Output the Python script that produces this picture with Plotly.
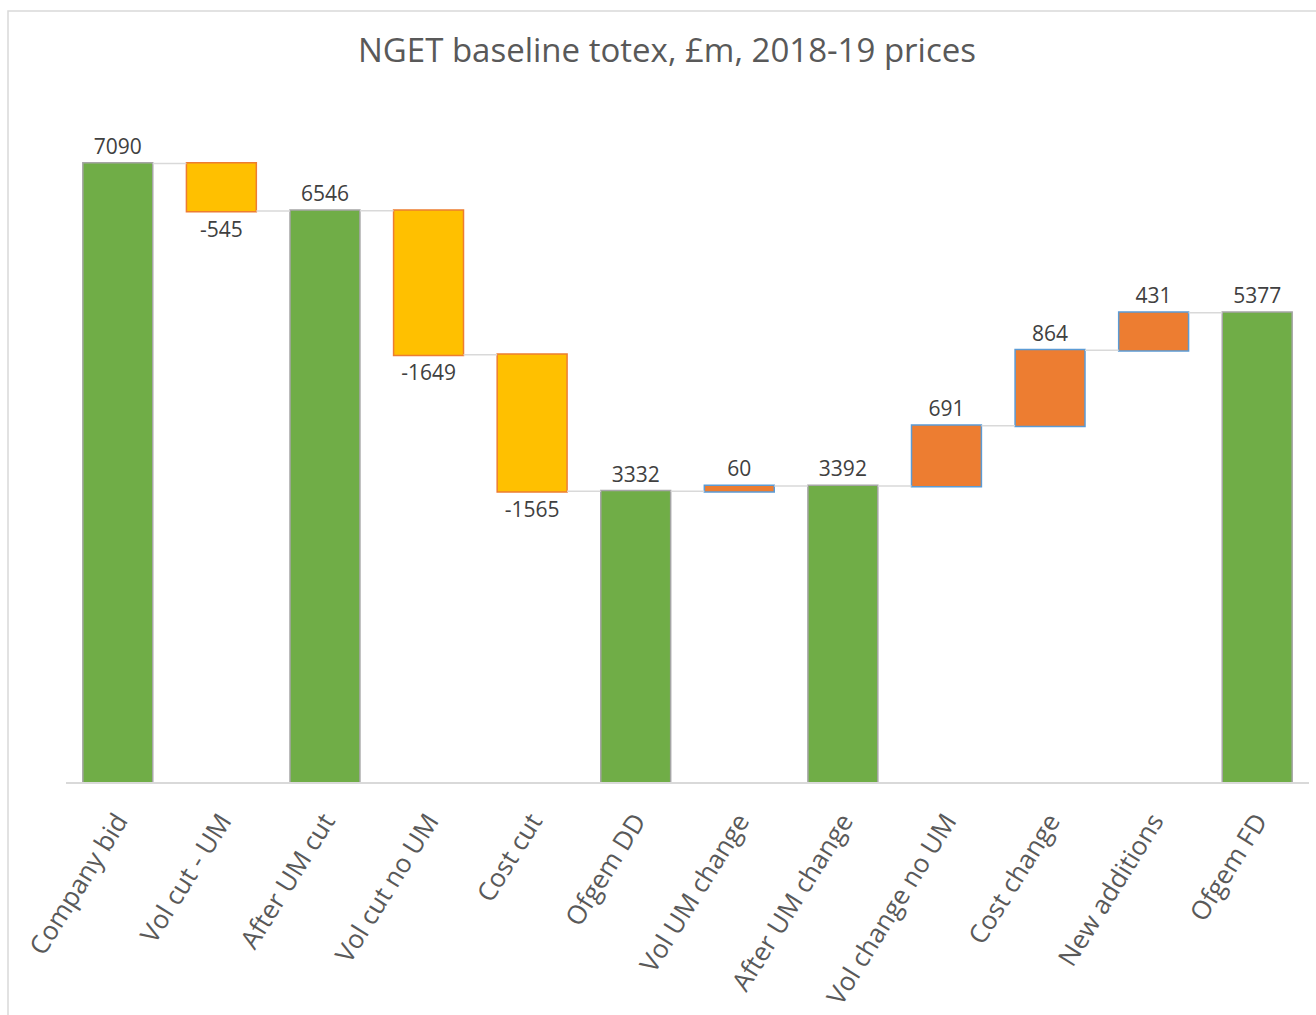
import plotly.graph_objects as go

categories = ["Company bid", "Vol cut - UM", "After UM cut", "Vol cut no UM", "Cost cut",
              "Ofgem DD", "Vol UM change", "After UM change", "Vol change no UM",
              "Cost change", "New additions", "Ofgem FD"]
values = [7090, -545, 6546, -1649, -1565, 3332, 60, 3392, 691, 864, 431, 5377]
measures = ["absolute", "relative", "absolute", "relative", "relative", "absolute",
            "relative", "absolute", "relative", "relative", "relative", "absolute"]
labels = [str(v) for v in values]

FONT = "Open Sans"

fig = go.Figure(go.Waterfall(
    x=categories, y=values, measure=measures,
    text=labels, textinfo="text", textposition="outside",
    textfont=dict(family=FONT, size=21, color="#404040"),
    cliponaxis=False,
    increasing=dict(marker=dict(color="#ED7D31", line=dict(color="#5B9BD5", width=1.5))),
    decreasing=dict(marker=dict(color="#FFC000", line=dict(color="#ED7D31", width=1.5))),
    totals=dict(marker=dict(color="#70AD47", line=dict(color="#A5A5A5", width=1.5))),
    connector=dict(line=dict(color="#D9D9D9", width=1.5), mode="between"),
    hoverinfo="skip",
))

fig.update_layout(
    width=1316, height=1015,
    margin=dict(l=66, r=7, t=84, b=233, autoexpand=False),
    paper_bgcolor="white", plot_bgcolor="white",
    showlegend=False,
    waterfallgap=0.325,
    title=dict(text="NGET baseline totex, £m, 2018-19 prices", x=667 / 1316, xref="container",
               xanchor="center", y=1 - 50 / 1015, yanchor="middle",
               font=dict(family=FONT, size=33, color="#595959")),
    xaxis=dict(showline=True, linecolor="#D9D9D9", linewidth=1.5, ticks="",
               tickangle=-58, tickfont=dict(family=FONT, size=26, color="#595959"),
               ticklabelstandoff=12, showgrid=False, automargin=False),
    yaxis=dict(range=[0, 8000], visible=False, showgrid=False, automargin=False),
    shapes=[dict(type="rect", xref="paper", yref="paper",
                 x0=(8 - 66) / 1243, x1=(1330 - 66) / 1243,
                 y0=(782 - 1030) / 698, y1=(782 - 11) / 698,
                 line=dict(color="#D9D9D9", width=1.5), fillcolor="rgba(0,0,0,0)", layer="below")],
)

fig.write_html("out.html")
